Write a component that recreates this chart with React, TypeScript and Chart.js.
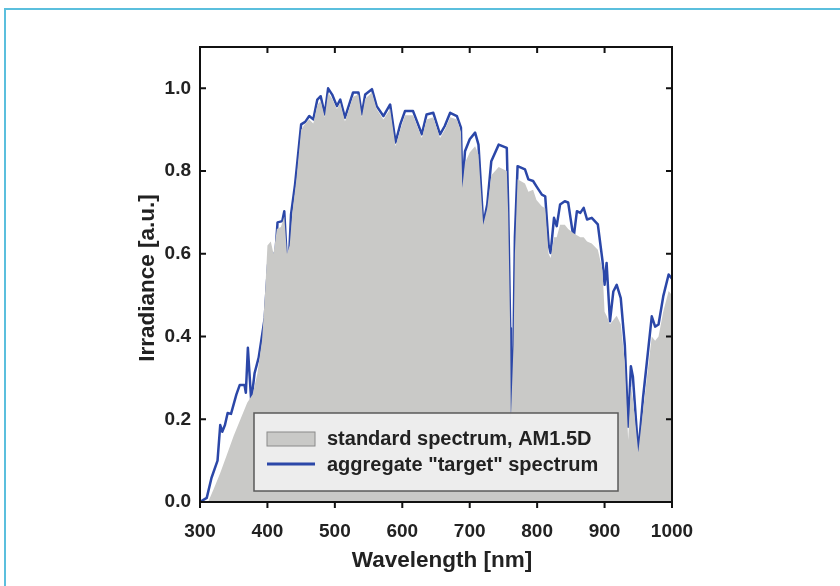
import React, { useEffect, useRef } from "react";
import { Chart, registerables } from "chart.js";

Chart.register(...registerables);

// aggregate "target" spectrum (blue line)
const blueWl = [300, 310, 317, 326, 330, 333, 337, 341, 346, 354, 359, 366, 368, 371, 376, 381, 387, 396, 401, 407, 411, 415, 422, 425, 428, 431, 435, 441, 450, 456, 462, 468, 474, 479, 485, 490, 496, 503, 508, 515, 522, 527, 535, 540, 545, 555, 562, 572, 582, 590, 597, 604, 616, 629, 636, 646, 656, 663, 671, 681, 687, 689, 693, 700, 708, 713, 720, 726, 732, 743, 755, 757, 760, 761, 765, 767, 771, 782, 787, 794, 799, 807, 812, 817, 820, 825, 829, 834, 841, 846, 854, 859, 864, 869, 874, 881, 890, 897, 900, 903, 908, 913, 918, 924, 930, 935, 939, 942, 950, 957, 970, 975, 980, 987, 995, 1000];
const blueVal = [0, 0.01, 0.058, 0.1, 0.186, 0.17, 0.186, 0.215, 0.213, 0.26, 0.283, 0.283, 0.264, 0.373, 0.243, 0.312, 0.349, 0.445, 0.574, 0.603, 0.579, 0.676, 0.679, 0.703, 0.606, 0.552, 0.695, 0.768, 0.913, 0.919, 0.933, 0.925, 0.973, 0.981, 0.937, 1.0, 0.985, 0.957, 0.973, 0.929, 0.965, 0.99, 0.99, 0.937, 0.985, 0.998, 0.957, 0.933, 0.961, 0.869, 0.913, 0.945, 0.945, 0.889, 0.937, 0.941, 0.889, 0.909, 0.941, 0.933, 0.905, 0.76, 0.848, 0.877, 0.893, 0.864, 0.671, 0.719, 0.824, 0.864, 0.856, 0.719, 0.42, 0.186, 0.38, 0.64, 0.812, 0.804, 0.78, 0.776, 0.763, 0.743, 0.739, 0.622, 0.602, 0.687, 0.667, 0.719, 0.727, 0.724, 0.638, 0.703, 0.699, 0.711, 0.683, 0.687, 0.671, 0.582, 0.525, 0.578, 0.437, 0.509, 0.525, 0.493, 0.38, 0.182, 0.328, 0.303, 0.118, 0.251, 0.449, 0.424, 0.429, 0.497, 0.55, 0.54];

// standard spectrum AM1.5D (grey area)
const grayWl = [300, 312, 320, 330, 340, 350, 360, 370, 378, 385, 392, 397, 400, 405, 409, 414, 420, 425, 429, 433, 437, 443, 450, 456, 462, 468, 474, 479, 485, 490, 496, 503, 508, 515, 522, 527, 535, 540, 545, 555, 562, 572, 582, 590, 597, 604, 616, 629, 636, 646, 656, 663, 671, 681, 687, 689, 693, 700, 708, 713, 720, 726, 732, 743, 755, 757, 760, 761, 765, 767, 771, 782, 787, 794, 799, 807, 812, 817, 820, 825, 829, 834, 841, 846, 854, 859, 864, 869, 874, 881, 890, 897, 900, 903, 908, 913, 918, 924, 930, 935, 939, 942, 950, 957, 970, 975, 980, 987, 995, 1000];
const grayVal = [0, 0, 0.03, 0.07, 0.115, 0.16, 0.2, 0.24, 0.26, 0.31, 0.39, 0.52, 0.62, 0.63, 0.6, 0.66, 0.665, 0.69, 0.6, 0.62, 0.7, 0.78, 0.9, 0.915, 0.925, 0.915, 0.96, 0.97, 0.93, 0.99, 0.975, 0.95, 0.965, 0.92, 0.955, 0.98, 0.985, 0.93, 0.975, 0.99, 0.95, 0.925, 0.95, 0.86, 0.9, 0.935, 0.935, 0.88, 0.925, 0.93, 0.88, 0.9, 0.93, 0.925, 0.895, 0.76, 0.82, 0.845, 0.86, 0.84, 0.67, 0.71, 0.79, 0.81, 0.8, 0.7, 0.42, 0.2, 0.38, 0.6, 0.78, 0.77, 0.75, 0.755, 0.73, 0.715, 0.71, 0.6, 0.59, 0.64, 0.64, 0.67, 0.67, 0.66, 0.65, 0.645, 0.64, 0.64, 0.63, 0.625, 0.61, 0.56, 0.46, 0.45, 0.43, 0.44, 0.45, 0.43, 0.34, 0.15, 0.28, 0.25, 0.12, 0.22, 0.4, 0.39, 0.4, 0.46, 0.51, 0.5];

const xTicks = [300, 400, 500, 600, 700, 800, 900, 1000];
const yTicks = [0, 0.2, 0.4, 0.6, 0.8, 1.0];
const legendLabels = ["standard spectrum, AM1.5D", 'aggregate "target" spectrum'];
const xTitle = "Wavelength [nm]";
const yTitle = "Irradiance [a.u.]";

const FONT = "'Liberation Sans', Arial, sans-serif";
const TEXT = "#222222";
const BLUE = "#2b47a8";
const GREY = "#c9c9c7";

const decorPlugin = {
  id: "decor",
  afterDatasetsDraw(chart: any) {
    const { ctx, chartArea: a, scales } = chart;
    const xs = scales.x;
    const ys = scales.y;
    ctx.save();
    // frame
    ctx.strokeStyle = "#111";
    ctx.lineWidth = 2;
    ctx.strokeRect(a.left, a.top, a.right - a.left, a.bottom - a.top);
    // ticks
    ctx.lineWidth = 2;
    ctx.beginPath();
    xTicks.forEach((v) => {
      const px = xs.getPixelForValue(v);
      ctx.moveTo(px, a.bottom);
      ctx.lineTo(px, a.bottom + 6);
      ctx.moveTo(px, a.top);
      ctx.lineTo(px, a.top + 6);
    });
    yTicks.forEach((v) => {
      const py = ys.getPixelForValue(v);
      ctx.moveTo(a.left, py);
      ctx.lineTo(a.left + 6, py);
      ctx.moveTo(a.right, py);
      ctx.lineTo(a.right - 6, py);
    });
    ctx.stroke();

    // legend
    const lx = 254, ly = 413, lw = 364, lh = 78;
    ctx.fillStyle = "rgba(241,241,241,0.9)";
    ctx.fillRect(lx, ly, lw, lh);
    ctx.strokeStyle = "#5a5a5a";
    ctx.lineWidth = 1.5;
    ctx.strokeRect(lx, ly, lw, lh);
    ctx.fillStyle = GREY;
    ctx.fillRect(267, 432, 48, 14);
    ctx.strokeStyle = "#8a8a8a";
    ctx.lineWidth = 1;
    ctx.strokeRect(267, 432, 48, 14);
    ctx.strokeStyle = BLUE;
    ctx.lineWidth = 3;
    ctx.beginPath();
    ctx.moveTo(267, 464);
    ctx.lineTo(315, 464);
    ctx.stroke();
    ctx.fillStyle = TEXT;
    ctx.font = `bold 20px ${FONT}`;
    ctx.textAlign = "left";
    ctx.textBaseline = "middle";
    ctx.fillText(legendLabels[0], 327, 439);
    ctx.fillText(legendLabels[1], 327, 465);

    // axis titles
    ctx.font = `bold 22.5px ${FONT}`;
    ctx.textAlign = "center";
    ctx.textBaseline = "middle";
    ctx.fillText(xTitle, 442, 561);
    ctx.translate(148, 278);
    ctx.rotate(-Math.PI / 2);
    ctx.fillText(yTitle, 0, 0);
    ctx.restore();
  },
};

export default function App() {
  const ref = useRef<HTMLCanvasElement | null>(null);

  useEffect(() => {
    if (!ref.current) return;
    const chart = new Chart(ref.current, {
      type: "line",
      data: {
        datasets: [
          {
            label: legendLabels[0],
            data: grayWl.map((x, i) => ({ x, y: grayVal[i] })),
            borderWidth: 0,
            borderColor: GREY,
            backgroundColor: GREY,
            fill: "origin",
            pointRadius: 0,
            tension: 0,
          },
          {
            label: legendLabels[1],
            data: blueWl.map((x, i) => ({ x, y: blueVal[i] })),
            borderWidth: 2.5,
            borderColor: BLUE,
            backgroundColor: BLUE,
            fill: false,
            pointRadius: 0,
            tension: 0,
            borderJoinStyle: "round",
          },
        ],
      },
      options: {
        responsive: false,
        animation: false,
        devicePixelRatio: 1,
        layout: { padding: { left: 0, top: 47, right: 168, bottom: 0 } },
        plugins: {
          legend: { display: false },
          tooltip: { enabled: false },
        },
        scales: {
          x: {
            type: "linear",
            min: 300,
            max: 1000,
            border: { display: false },
            grid: { display: false, drawTicks: false },
            afterFit: (s: any) => {
              s.height = 84;
            },
            afterBuildTicks: (s: any) => {
              s.ticks = xTicks.map((v) => ({ value: v }));
            },
            ticks: {
              padding: 18,
              color: TEXT,
              font: { family: FONT, size: 19, weight: "bold" },
              maxRotation: 0,
              autoSkip: false,
              callback: (v: any) => String(v),
            },
          },
          y: {
            type: "linear",
            min: 0,
            max: 1.1,
            border: { display: false },
            grid: { display: false, drawTicks: false },
            afterFit: (s: any) => {
              s.width = 200;
            },
            afterBuildTicks: (s: any) => {
              s.ticks = yTicks.map((v) => ({ value: v }));
            },
            ticks: {
              padding: 9,
              color: TEXT,
              font: { family: FONT, size: 19, weight: "bold" },
              autoSkip: false,
              callback: (v: any) => Number(v).toFixed(1),
            },
          },
        },
      },
      plugins: [decorPlugin],
    });
    return () => chart.destroy();
  }, []);

  return (
    <div style={{ position: "fixed", left: 0, top: 0, width: 840, height: 586, background: "#fff", overflow: "hidden" }}>
      <div
        style={{
          position: "absolute",
          left: 4,
          top: 8,
          width: 840,
          height: 600,
          borderTop: "2px solid #5bbfdd",
          borderLeft: "2px solid #5bbfdd",
          boxSizing: "border-box",
        }}
      />
      <canvas ref={ref} width={840} height={586} style={{ position: "absolute", left: 0, top: 0 }} />
    </div>
  );
}
